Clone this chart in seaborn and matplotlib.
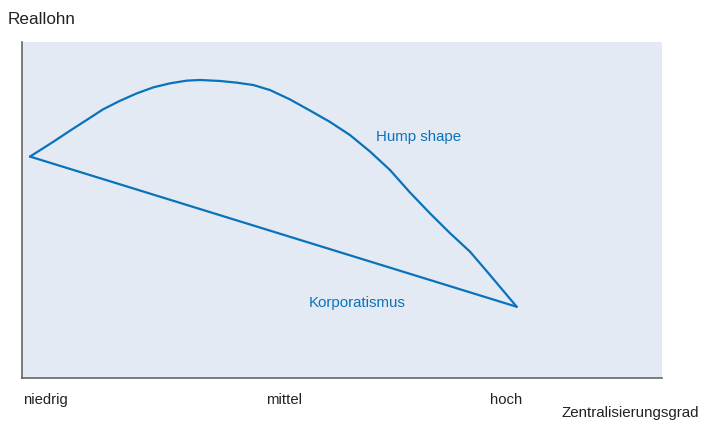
import numpy as np
import pandas as pd
import matplotlib
matplotlib.use("Agg")
import matplotlib.pyplot as plt
import seaborn as sns

# values, both axes on a 0-100 scale
hump_x = [1.25, 4.89, 7.5, 10.11, 12.70, 15.31, 17.92, 20.52, 23.13, 25.73,
          27.81, 30.94, 33.55, 36.14, 38.75, 41.88, 45.0, 48.13, 51.25, 54.38,
          57.5, 60.63, 63.75, 66.88, 70.0, 72.61, 74.69, 77.30]
hump_y = [65.9, 70.3, 73.6, 76.8, 80.0, 82.5, 84.7, 86.5, 87.7, 88.5,
          88.7, 88.4, 87.9, 87.2, 85.7, 82.9, 79.6, 76.2, 72.3, 67.4,
          61.9, 55.2, 49.0, 43.1, 37.6, 31.8, 27.1, 21.2]
korp_x = [1.25, 77.30]
korp_y = [65.9, 21.2]
tick_pos = [3.6, 41.0, 75.6]
tick_labels = ["niedrig", "mittel", "hoch"]

line_color = "#0a72ba"
bg_color = "#e3eaf4"

sns.set_theme(style="white")
plt.rcParams["font.family"] = ["Liberation Sans", "DejaVu Sans"]

fig = plt.figure(figsize=(7.01, 4.21), dpi=100)
ax = fig.add_axes([22 / 701, 43 / 421, 640 / 701, 336 / 421])
ax.set_facecolor(bg_color)

hump = pd.DataFrame({"x": hump_x, "y": hump_y})
korp = pd.DataFrame({"x": korp_x, "y": korp_y})
sns.lineplot(data=hump, x="x", y="y", sort=False, color=line_color, lw=1.6, ax=ax)
sns.lineplot(data=korp, x="x", y="y", sort=False, color=line_color, lw=1.6, ax=ax)

ax.text(55.3, 71.7, "Hump shape", color=line_color, fontsize=10.8, va="center")
ax.text(44.8, 22.3, "Korporatismus", color=line_color, fontsize=10.8, va="center")

ax.set_xlim(0, 100)
ax.set_ylim(0, 100)
ax.set_xticks(tick_pos)
ax.set_xticklabels(tick_labels, fontsize=10.7, color="#222222")
ax.set_yticks([])
ax.tick_params(axis="x", length=0, pad=11)
ax.set_xlabel("")
ax.set_ylabel("")

for side in ["top", "right"]:
    ax.spines[side].set_visible(False)
for side in ["left", "bottom"]:
    ax.spines[side].set_color("#666666")
    ax.spines[side].set_linewidth(1.2)

fig.text(8 / 701, 1 - 20 / 421, "Reallohn", fontsize=12.3, color="#222222", va="center")
fig.text(562 / 701, 1 - 413 / 421, "Zentralisierungsgrad", fontsize=10.9,
         color="#222222", va="center")

fig.savefig("out.png", dpi=100)
